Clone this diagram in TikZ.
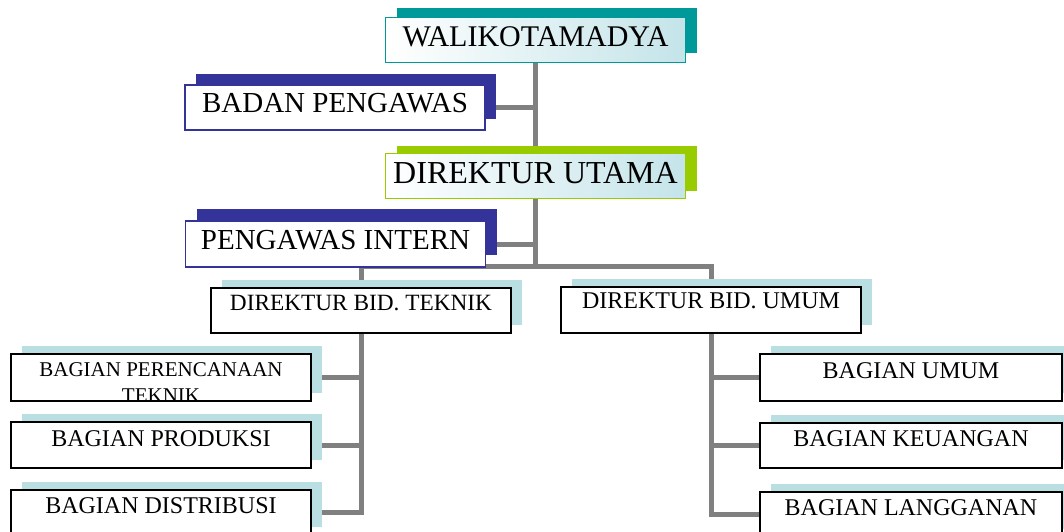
\documentclass[tikz,border=0pt]{standalone}
\usepackage{fontspec}
\setmainfont{Liberation Serif}
\usetikzlibrary{shadows,backgrounds}

\definecolor{tealdk}{HTML}{009999}
\definecolor{navyb}{HTML}{333399}
\definecolor{limeg}{HTML}{99CC00}
\definecolor{paleteal}{HTML}{BADFE2}
\definecolor{tintteal}{HTML}{C4E4E9}
\definecolor{linegray}{HTML}{808080}

\begin{document}
\begin{tikzpicture}[x=1pt,y=-1pt,
    box/.style={inner sep=0pt, minimum width=300pt, minimum height=45pt},
    headbox/.style={box, line width=1.5pt, text height=21pt, text depth=10pt},
    unitbox/.style={box, draw=black, line width=1.8pt, fill=white,
        text height=18pt, text depth=16pt, font=\fontsize{24}{28}\selectfont,
        copy shadow={shadow xshift=11pt, shadow yshift=8pt, fill=paleteal, draw=none}},
    link/.style={draw=linegray, line width=5pt}]

\useasboundingbox (0,0) rectangle (1064,532);

% top of the chart
\node[headbox, draw=tealdk, left color=white, right color=tintteal, text height=22pt, text depth=9pt,
      copy shadow={shadow xshift=11pt, shadow yshift=9pt, fill=tealdk, draw=none},
      font=\fontsize{30}{36}\selectfont] (walik) at (535.5,40) {WALIKOTAMADYA};
\node[headbox, draw=navyb, fill=white,
      copy shadow={shadow xshift=11pt, shadow yshift=11pt, fill=navyb, draw=none},
      font=\fontsize{29}{34}\selectfont] (badan) at (335,107.5) {BADAN PENGAWAS};
\node[headbox, draw=limeg, left color=white, right color=tintteal, text height=23pt, text depth=8pt,
      copy shadow={shadow xshift=11pt, shadow yshift=8pt, fill=limeg, draw=none},
      font=\fontsize{32}{38}\selectfont] (dirut) at (535.5,176) {DIREKTUR UTAMA};
\node[headbox, draw=navyb, fill=white, minimum height=46pt,
      copy shadow={shadow xshift=11pt, shadow yshift=12pt, fill=navyb, draw=none},
      font=\fontsize{29}{34}\selectfont] (spi) at (335.5,244) {PENGAWAS INTERN};

% direktur bidang
\node[unitbox, text height=20pt, text depth=20pt, font=\fontsize{23.3}{28}\selectfont] (dirtek) at (361,310.5) {DIREKTUR BID. TEKNIK};
\node[unitbox, text height=19pt, text depth=22pt, minimum height=46pt] (dirum) at (711,310) {DIREKTUR BID. UMUM};

% bagian kiri
\node[unitbox, minimum height=47pt] (perenc) at (161,377.5) {};
\begin{scope}
  \clip ([shift={(0.9,-0.9)}]perenc.south west) rectangle ([shift={(-0.9,0.9)}]perenc.north east);
  \node[anchor=north, align=center, inner sep=0pt, font=\fontsize{21}{26}\selectfont]
    (perenctxt) at ([yshift=-9pt]perenc.north) {BAGIAN PERENCANAAN\\TEKNIK};
\end{scope}
\node[unitbox, minimum height=46pt] (prod) at (161,445) {BAGIAN PRODUKSI};
\node[unitbox] (distr) at (161,512.5) {BAGIAN DISTRIBUSI};

% bagian kanan
\node[unitbox, minimum width=302pt, minimum height=47pt] (umum) at (911,377.5) {BAGIAN UMUM};
\node[unitbox, minimum width=302pt] (keu) at (911,445.5) {BAGIAN KEUANGAN};
\node[unitbox, minimum width=302pt] (lang) at (911,514.5) {BAGIAN LANGGANAN};

% garis
\begin{scope}[on background layer]
  \coordinate (jct) at (walik.south |- 0,266);
  \draw[link] (walik.south) -- (jct);
  \draw[link] (badan.east) -- (badan.east -| jct);
  \draw[link] (spi.east) -- (spi.east -| jct);
  \draw[link] (dirtek.north) |- (jct) -| (dirum.north);
  \draw[link] (dirtek.south) |- (distr.east);
  \draw[link] (perenc.east) -- (perenc.east -| dirtek.south);
  \draw[link] (prod.east) -- (prod.east -| dirtek.south);
  \draw[link] (dirum.south) |- (lang.west);
  \draw[link] (umum.west) -- (umum.west -| dirum.south);
  \draw[link] (keu.west) -- (keu.west -| dirum.south);
\end{scope}
\end{tikzpicture}
\end{document}
